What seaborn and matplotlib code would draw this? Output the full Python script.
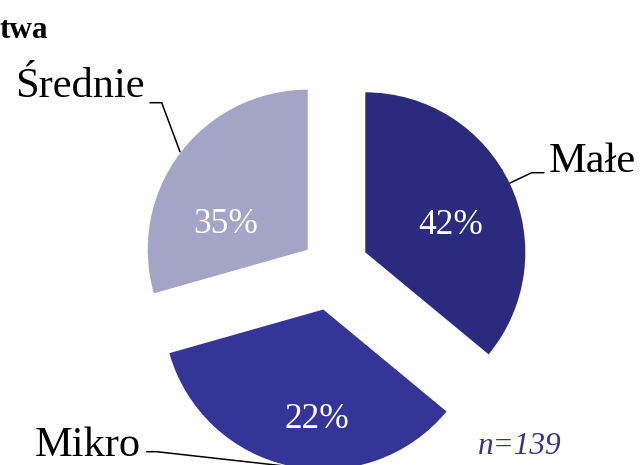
import matplotlib
matplotlib.use("Agg")
import matplotlib.pyplot as plt
import seaborn as sns

# ---- data ----
categories = ["Małe", "Mikro", "Średnie"]
shares = [36.0, 34.6, 29.4]          # slice sizes as drawn (angles in the picture)
pct_labels = ["42%", "22%", "35%"]   # labels printed on the slices
colors = ["#2A2A7E", "#353597", "#A4A4C6"]
explode_frac = [0.23, 0.265, 0.19]   # fraction of the radius
title_text = "twa"
note_text = "n=139"

sns.set_theme(style="white")
plt.rcParams['font.family'] = ['Liberation Serif', 'DejaVu Serif']

W, H = 641, 465
fig = plt.figure(figsize=(W / 100, H / 100), dpi=100)
ax = fig.add_axes([0, 0, 1, 1])

def Y(y_img):
    return H - y_img

cx, cy, R = 332, Y(268), 160
wedges, _ = ax.pie(shares, colors=colors, startangle=90, counterclock=False,
                   explode=[e * R for e in explode_frac], radius=R, center=(cx, cy),
                   wedgeprops=dict(linewidth=0))
ax.set_xlim(0, W)
ax.set_ylim(0, H)
ax.set_aspect('equal')
ax.axis('off')

# percentage labels on the slices
pct_pos = [(450.4, 234.3), (316.7, 428.3), (226.0, 233.3)]
for txt, (x, y) in zip(pct_labels, pct_pos):
    ax.text(x, Y(y), txt, ha='center', va='baseline', color='white', fontsize=25.5)

# category labels with leader lines
lab_pos = [(549, 171.7), (35, 456.0), (15, 97.0)]
leaders = [
    [(510, 183), (531.7, 172.7), (544, 172.7)],
    [(146.7, 451.7), (156.7, 451.7), (266.7, 464), (300, 467.7)],
    [(150, 102.7), (161.7, 102.7), (180, 151.7)],
]
for name, (x, y), pts in zip(categories, lab_pos, leaders):
    ax.text(x, Y(y), name, ha='left', va='baseline', color='black', fontsize=30.5)
    ax.plot([p[0] for p in pts], [Y(p[1]) for p in pts], color='black', lw=1.1,
            solid_joinstyle='miter', clip_on=False)

ax.text(-1, Y(38), title_text, ha='left', va='baseline', fontsize=22.5, fontweight='bold', color='black')
ax.text(478, Y(454), note_text, ha='left', va='baseline', fontsize=22.5, style='italic', color='#35358F')

fig.savefig("out.png", dpi=100, facecolor='white')
